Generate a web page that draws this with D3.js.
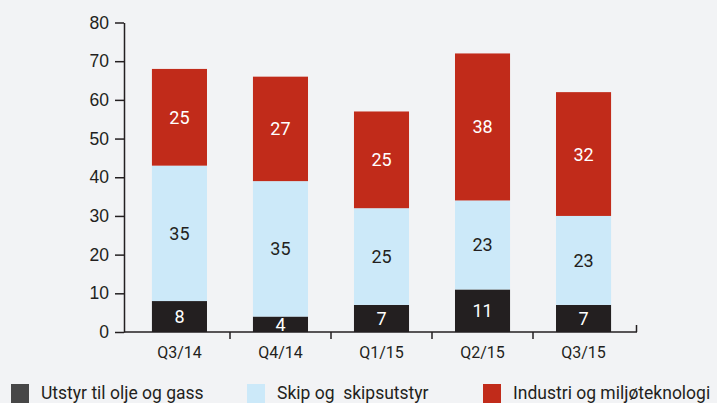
<!DOCTYPE html>
<html>
<head>
<meta charset="utf-8">
<script src="https://cdn.jsdelivr.net/npm/d3@7"></script>
<style>
  html, body { margin: 0; padding: 0; background: #f2f3f5; }
  svg { display: block; font-family: Roboto, "Liberation Sans", sans-serif; }
</style>
</head>
<body>
<svg id="chart" width="717" height="403"></svg>
<script>
// data
const quarters = ["Q3/14", "Q4/14", "Q1/15", "Q2/15", "Q3/15"];
const seriesNames = ["Utstyr til olje og gass", "Skip og  skipsutstyr", "Industri og miljøteknologi"];
const oilGas = [8, 4, 7, 11, 7];
const ships = [35, 35, 25, 23, 23];
const industry = [25, 27, 25, 38, 32];
const yTicks = [0, 10, 20, 30, 40, 50, 60, 70, 80];

const colors = ["#231f20", "#cce9f9", "#c12b1a"];
const legendColors = ["#474747", "#cce9f9", "#c12b1a"];
const labelColors = ["#ffffff", "#231f20", "#ffffff"];

const svg = d3.select("#chart");

const rows = quarters.map((q, i) => ({ q, s0: oilGas[i], s1: ships[i], s2: industry[i] }));
const stack = d3.stack().keys(["s0", "s1", "s2"])(rows);

const x = d3.scaleBand().domain(quarters).range([129, 634]).paddingInner(0.455).paddingOuter(0.227);
const y = d3.scaleLinear().domain([0, 80]).range([332, 22.5]);

// y axis
const yAxis = svg.append("g").attr("transform", "translate(124,0)")
  .call(d3.axisLeft(y).tickValues(yTicks).tickSize(9).tickPadding(6).tickSizeOuter(0));
yAxis.select(".domain").attr("stroke", "#231f20").attr("stroke-width", 1.5);
yAxis.selectAll(".tick line").attr("stroke", "#231f20").attr("stroke-width", 1.5);
yAxis.selectAll(".tick text").attr("fill", "#231f20").attr("font-size", 17.5);

// bars
const layer = svg.append("g").selectAll("g").data(stack).join("g")
  .attr("fill", (d, i) => colors[i]);
layer.selectAll("rect").data(d => d).join("rect")
  .attr("x", d => x(d.data.q))
  .attr("width", x.bandwidth())
  .attr("y", d => y(d[1]))
  .attr("height", d => y(d[0]) - y(d[1]));

// value labels
svg.append("g").selectAll("g").data(stack).join("g")
  .attr("fill", (d, i) => labelColors[i])
  .selectAll("text").data(d => d).join("text")
  .attr("x", d => x(d.data.q) + x.bandwidth() / 2)
  .attr("y", d => y((d[0] + d[1]) / 2))
  .attr("dy", "0.36em")
  .attr("text-anchor", "middle")
  .attr("font-size", 18)
  .text(d => d[1] - d[0]);

// x axis
const boundaries = [230, 331, 432, 533];
const xAxis = svg.append("g");
xAxis.append("line").attr("x1", 124).attr("x2", 637).attr("y1", 332).attr("y2", 332)
  .attr("stroke", "#231f20").attr("stroke-width", 1.5);
xAxis.selectAll("line.tk").data(boundaries).join("line").attr("class", "tk")
  .attr("x1", d => d).attr("x2", d => d).attr("y1", 332).attr("y2", 339)
  .attr("stroke", "#231f20").attr("stroke-width", 1.5);
xAxis.append("line").attr("x1", 636.5).attr("x2", 636.5).attr("y1", 325).attr("y2", 332)
  .attr("stroke", "#231f20").attr("stroke-width", 1.5);
xAxis.selectAll("text").data(quarters).join("text")
  .attr("x", d => x(d) + x.bandwidth() / 2)
  .attr("y", 358)
  .attr("text-anchor", "middle")
  .attr("font-size", 16)
  .attr("fill", "#231f20")
  .text(d => d);

// legend
const legendX = [11, 247, 483];
const legend = svg.append("g").selectAll("g").data(seriesNames).join("g")
  .attr("transform", (d, i) => `translate(${legendX[i]},384)`);
legend.append("rect").attr("width", 18).attr("height", 19).attr("fill", (d, i) => legendColors[i]);
legend.append("text").attr("x", 30).attr("y", 14.5)
  .attr("xml:space", "preserve").style("white-space", "pre")
  .attr("font-size", 17.5).attr("fill", "#231f20").text(d => d);
</script>
</body>
</html>
